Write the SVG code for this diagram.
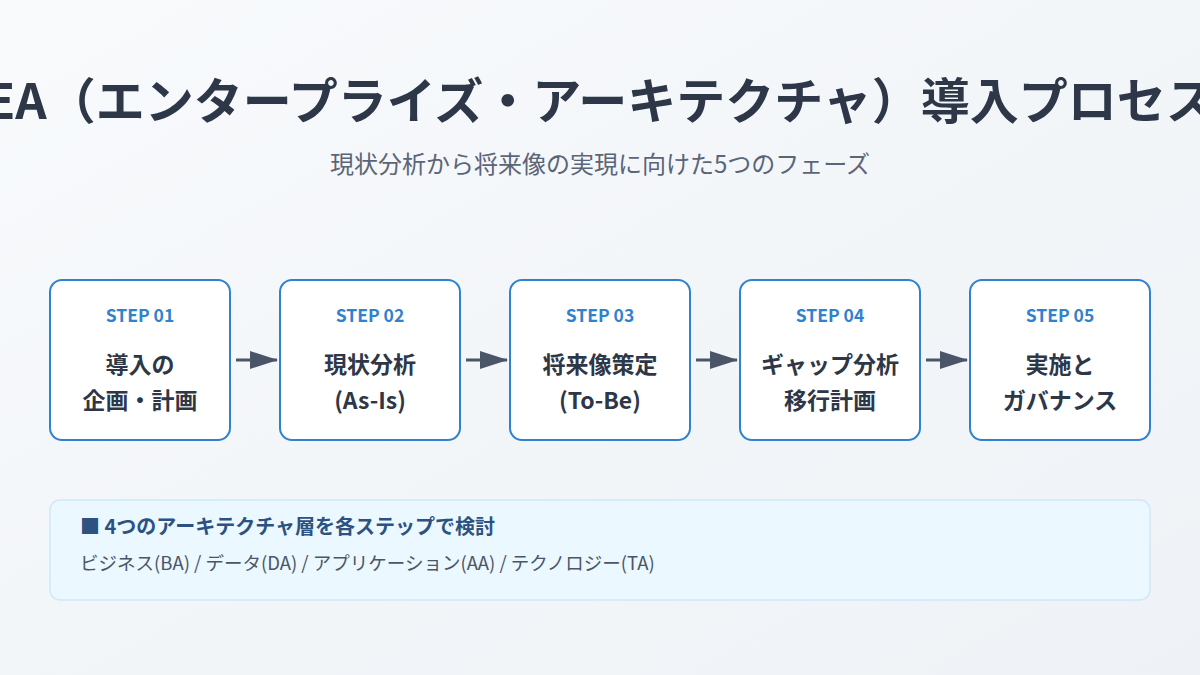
<svg xmlns="http://www.w3.org/2000/svg" width="1200" height="675" viewBox="0 0 1200 675">
<defs>
<linearGradient id="bg" x1="0" y1="0" x2="1" y2="1"><stop offset="0" stop-color="#f8fafc"/><stop offset="1" stop-color="#eef2f6"/></linearGradient>
<marker id="ah" viewBox="0 0 10 10" refX="9" refY="5" markerWidth="10" markerHeight="6" orient="auto" markerUnits="userSpaceOnUse" preserveAspectRatio="none"><path d="M0,0 L10,5 L0,10 z" fill="#4a5568"/></marker>
<marker id="ah2" viewBox="0 0 28 18" refX="27" refY="9" markerWidth="28" markerHeight="18" orient="auto" markerUnits="userSpaceOnUse"><path d="M0,0 L28,9 L0,18 z" fill="#4a5568"/></marker>
<style>
text{font-family:"Noto Sans CJK JP","Noto Sans",sans-serif;text-anchor:middle}
.box{fill:#fff;stroke:#3182ce;stroke-width:2}
.step{fill:#3182ce;font-size:17.5px;font-weight:700}
.lbl{fill:#2d3748;font-size:23px;font-weight:700}
.con{stroke:#4a5568;stroke-width:3;fill:none;marker-end:url(#ah2)}
</style>
</defs>
<rect width="1200" height="675" fill="url(#bg)"/>
<text x="600" y="119" font-size="49" font-weight="700" fill="#2d3748">EA（エンタープライズ・アーキテクチャ）導入プロセス</text>
<text x="600" y="173" font-size="24" fill="#5a6578">現状分析から将来像の実現に向けた5つのフェーズ</text>
<g id="connectors">
<line class="con" x1="236" y1="360" x2="277" y2="360"/>
<line class="con" x1="466" y1="360" x2="507" y2="360"/>
<line class="con" x1="696" y1="360" x2="737" y2="360"/>
<line class="con" x1="926" y1="360" x2="967" y2="360"/>
</g>
<g id="step1"><rect class="box" x="50" y="280" width="180" height="160" rx="12"/><text class="step" x="140" y="322">STEP 01</text><text class="lbl" x="140" y="373">導入の</text><text class="lbl" x="140" y="409">企画・計画</text></g>
<g id="step2"><rect class="box" x="280" y="280" width="180" height="160" rx="12"/><text class="step" x="370" y="322">STEP 02</text><text class="lbl" x="370" y="373">現状分析</text><text class="lbl" x="370" y="409">(As-Is)</text></g>
<g id="step3"><rect class="box" x="510" y="280" width="180" height="160" rx="12"/><text class="step" x="600" y="322">STEP 03</text><text class="lbl" x="600" y="373">将来像策定</text><text class="lbl" x="600" y="409">(To-Be)</text></g>
<g id="step4"><rect class="box" x="740" y="280" width="180" height="160" rx="12"/><text class="step" x="830" y="322">STEP 04</text><text class="lbl" x="830" y="373">ギャップ分析</text><text class="lbl" x="830" y="409">移行計画</text></g>
<g id="step5"><rect class="box" x="970" y="280" width="180" height="160" rx="12"/><text class="step" x="1060" y="322">STEP 05</text><text class="lbl" x="1060" y="373">実施と</text><text class="lbl" x="1060" y="409">ガバナンス</text></g>
<g id="note">
<rect x="50" y="500" width="1100" height="100" rx="10" fill="#ebf8ff" stroke="#d0e8f7" stroke-width="1.5"/>
<text x="80" y="534" font-size="20" font-weight="700" fill="#2c5282" style="text-anchor:start">■ 4つのアーキテクチャ層を各ステップで検討</text>
<text x="80" y="570" font-size="18.5" fill="#4a5568" style="text-anchor:start">ビジネス(BA) / データ(DA) / アプリケーション(AA) / テクノロジー(TA)</text>
</g>
</svg>
